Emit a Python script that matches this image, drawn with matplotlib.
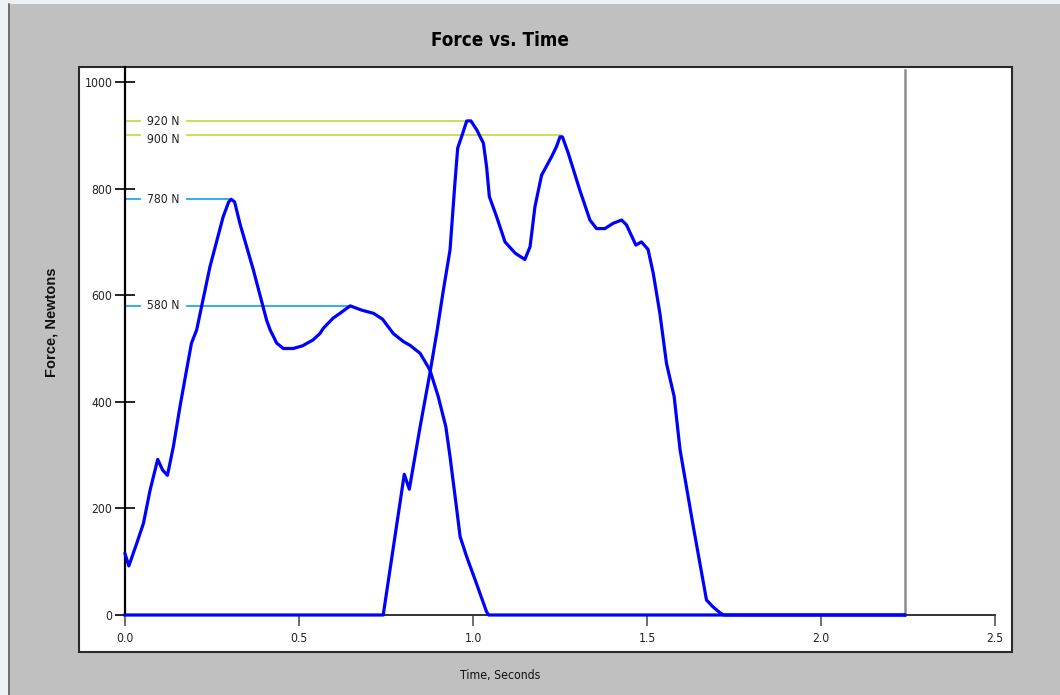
import matplotlib
matplotlib.use("Agg")
import matplotlib.pyplot as plt
from matplotlib.patches import Rectangle
from matplotlib.lines import Line2D

# ---------------- data ----------------
time_a = [0.000, 0.011, 0.034, 0.053, 0.072, 0.094, 0.108, 0.122, 0.139, 0.158,
          0.177, 0.191, 0.206, 0.244, 0.282, 0.298, 0.305, 0.315, 0.330, 0.369,
          0.407, 0.417, 0.436, 0.455, 0.483, 0.510, 0.540, 0.560, 0.570, 0.598,
          0.620, 0.647, 0.680, 0.714, 0.740, 0.771, 0.800, 0.819, 0.848, 0.876,
          0.900, 0.922, 0.934, 0.950, 0.963, 0.982, 1.010, 1.039, 1.045, 2.240]
force_a = [115, 92, 135, 172, 234, 292, 272, 262, 316, 391,
           460, 510, 535, 653, 747, 775, 780, 775, 735, 647,
           553, 535, 510, 500, 500, 505, 516, 528, 538, 557,
           567, 580, 572, 566, 555, 528, 513, 506, 491, 460,
           410, 353, 297, 215, 147, 109, 59, 6, 0, 0]

time_b = [0.000, 0.742, 0.8025, 0.817, 0.848, 0.876, 0.896, 0.915, 0.934, 0.948,
          0.956, 0.967, 0.982, 0.994, 1.011, 1.030, 1.039, 1.047, 1.068, 1.092,
          1.121, 1.149, 1.164, 1.178, 1.197, 1.226, 1.240, 1.250, 1.257, 1.274,
          1.307, 1.336, 1.355, 1.379, 1.403, 1.427, 1.441, 1.468, 1.484, 1.503,
          1.518, 1.537, 1.556, 1.578, 1.595, 1.633, 1.671, 1.690, 1.710, 1.720,
          2.240]
force_b = [0, 0, 264, 236, 353, 453, 530, 610, 685, 810,
           876, 897, 927, 927, 910, 885, 841, 785, 747, 700,
           679, 667, 691, 766, 825, 860, 879, 897, 897, 866,
           797, 741, 725, 725, 735, 741, 732, 694, 700, 686,
           641, 566, 472, 410, 310, 166, 28, 15, 4, 0,
           0]

ref_values = [926, 900, 780, 580]
ref_labels = ["920 N", "900 N", "780 N", "580 N"]
ref_end_times = [0.985, 1.253, 0.305, 0.647]
ref_colors = ["#C3E04A", "#C3E04A", "#22AAE6", "#22AAE6"]
ref_label_shift = [0, -7, 0, 0]

end_time = 2.24
end_marker_top = 1022

x_ticks = [0.0, 0.5, 1.0, 1.5, 2.0, 2.5]
x_tick_labels = ["0.0", "0.5", "1.0", "1.5", "2.0", "2.5"]
y_ticks = [0, 200, 400, 600, 800, 1000]
y_tick_labels = ["0", "200", "400", "600", "800", "1000"]

title = "Force vs. Time"
x_label = "Time, Seconds"
y_label = "Force, Newtons"

# ---------------- figure ----------------
W, H = 1060, 695
narrow = ["DejaVu Sans"]
NSTRETCH = "condensed"
fig = plt.figure(figsize=(W / 100, H / 100), dpi=100)
fig.patch.set_facecolor("#C0C0C0")

def fx(px):
    return px / W

def fy(py):
    return 1 - py / H

# window border strips
fig.add_artist(Rectangle((0, 0), fx(8), 1, transform=fig.transFigure,
                         facecolor="#EEF1F4", edgecolor="none", zorder=0))
fig.add_artist(Rectangle((0, fy(4)), 1, 4 / H, transform=fig.transFigure,
                         facecolor="#EEF1F4", edgecolor="none", zorder=0))
fig.add_artist(Line2D([fx(8.5), fx(8.5)], [0, fy(4)], transform=fig.transFigure,
                      color="#606060", lw=1.2, zorder=0))

# white panel
fig.add_artist(Rectangle((fx(79), fy(652)), fx(1012) - fx(79), fy(67) - fy(652),
                         transform=fig.transFigure, facecolor="white",
                         edgecolor="#2a2a2a", lw=1.5, zorder=0))

ax_left, ax_right = 125, 995
ax_bottom_px, ax_top_px = 615, 67
ax = fig.add_axes([fx(ax_left), fy(ax_bottom_px), fx(ax_right) - fx(ax_left),
                   fy(ax_top_px) - fy(ax_bottom_px)])
ax.patch.set_alpha(0)
px_per_unit_y = (615 - 82) / 1000.0
ax.set_xlim(0, 2.5)
ax.set_ylim(0, (ax_bottom_px - ax_top_px) / px_per_unit_y)

for s in ["top", "right"]:
    ax.spines[s].set_visible(False)
ax.spines["left"].set_color("black")
ax.spines["left"].set_linewidth(1.6)
ax.spines["bottom"].set_color("#333333")
ax.spines["bottom"].set_linewidth(1.4)

ax.set_xticks(x_ticks)
ax.set_xticklabels(x_tick_labels, family=narrow, stretch=NSTRETCH, fontsize=8.7,
                   color="#222222")
ax.set_yticks(y_ticks)
ax.set_yticklabels(y_tick_labels, family=narrow, stretch=NSTRETCH, fontsize=8.7,
                   color="#222222")
ax.tick_params(axis="y", direction="inout", length=14, width=1.2, color="black", pad=2)
ax.tick_params(axis="x", direction="out", length=8, width=1.2, color="#555555", pad=4)
ax.set_xticks([2.0, 2.5], minor=True)
ax.tick_params(axis="x", which="minor", direction="in", length=8, width=1.2,
               color="#333333")

# reference lines with labels
label_t = 0.109
gap_lo, gap_hi = 0.042, 0.178
for val, lab, tend, col, sh in zip(ref_values, ref_labels, ref_end_times,
                                   ref_colors, ref_label_shift):
    ax.plot([0, gap_lo], [val, val], color=col, lw=1.3, zorder=2, clip_on=False)
    ax.plot([gap_hi, tend], [val, val], color=col, lw=1.3, zorder=2, clip_on=False)
    ax.text(label_t, val + sh, lab, ha="center", va="center", family=narrow,
            stretch=NSTRETCH, fontsize=8.7, color="#222222", zorder=3)

# end-of-record marker
ax.plot([end_time, end_time], [0, end_marker_top], color="#8C8C8C", lw=1.8,
        zorder=2, clip_on=False)

# force curves
ax.plot(time_a, force_a, color="#0000FF", lw=2.3, zorder=4, clip_on=False,
        solid_joinstyle="round")
ax.plot(time_b, force_b, color="#0000FF", lw=2.3, zorder=4, clip_on=False,
        solid_joinstyle="round")

# texts
fig.text(fx(500), fy(40), title, ha="center", va="center", family=narrow,
         stretch=NSTRETCH, fontsize=13.5, fontweight="bold", color="black")
fig.text(fx(500), fy(675), x_label, ha="center", va="center", family=narrow,
         stretch=NSTRETCH, fontsize=8.8, color="#111111")
fig.text(fx(52), fy(322), y_label, ha="center", va="center", rotation=90,
         family=["Liberation Sans", "DejaVu Sans"], fontsize=10.5,
         fontweight="bold", color="#111111")

fig.savefig("out.png", dpi=100, facecolor=fig.get_facecolor())
